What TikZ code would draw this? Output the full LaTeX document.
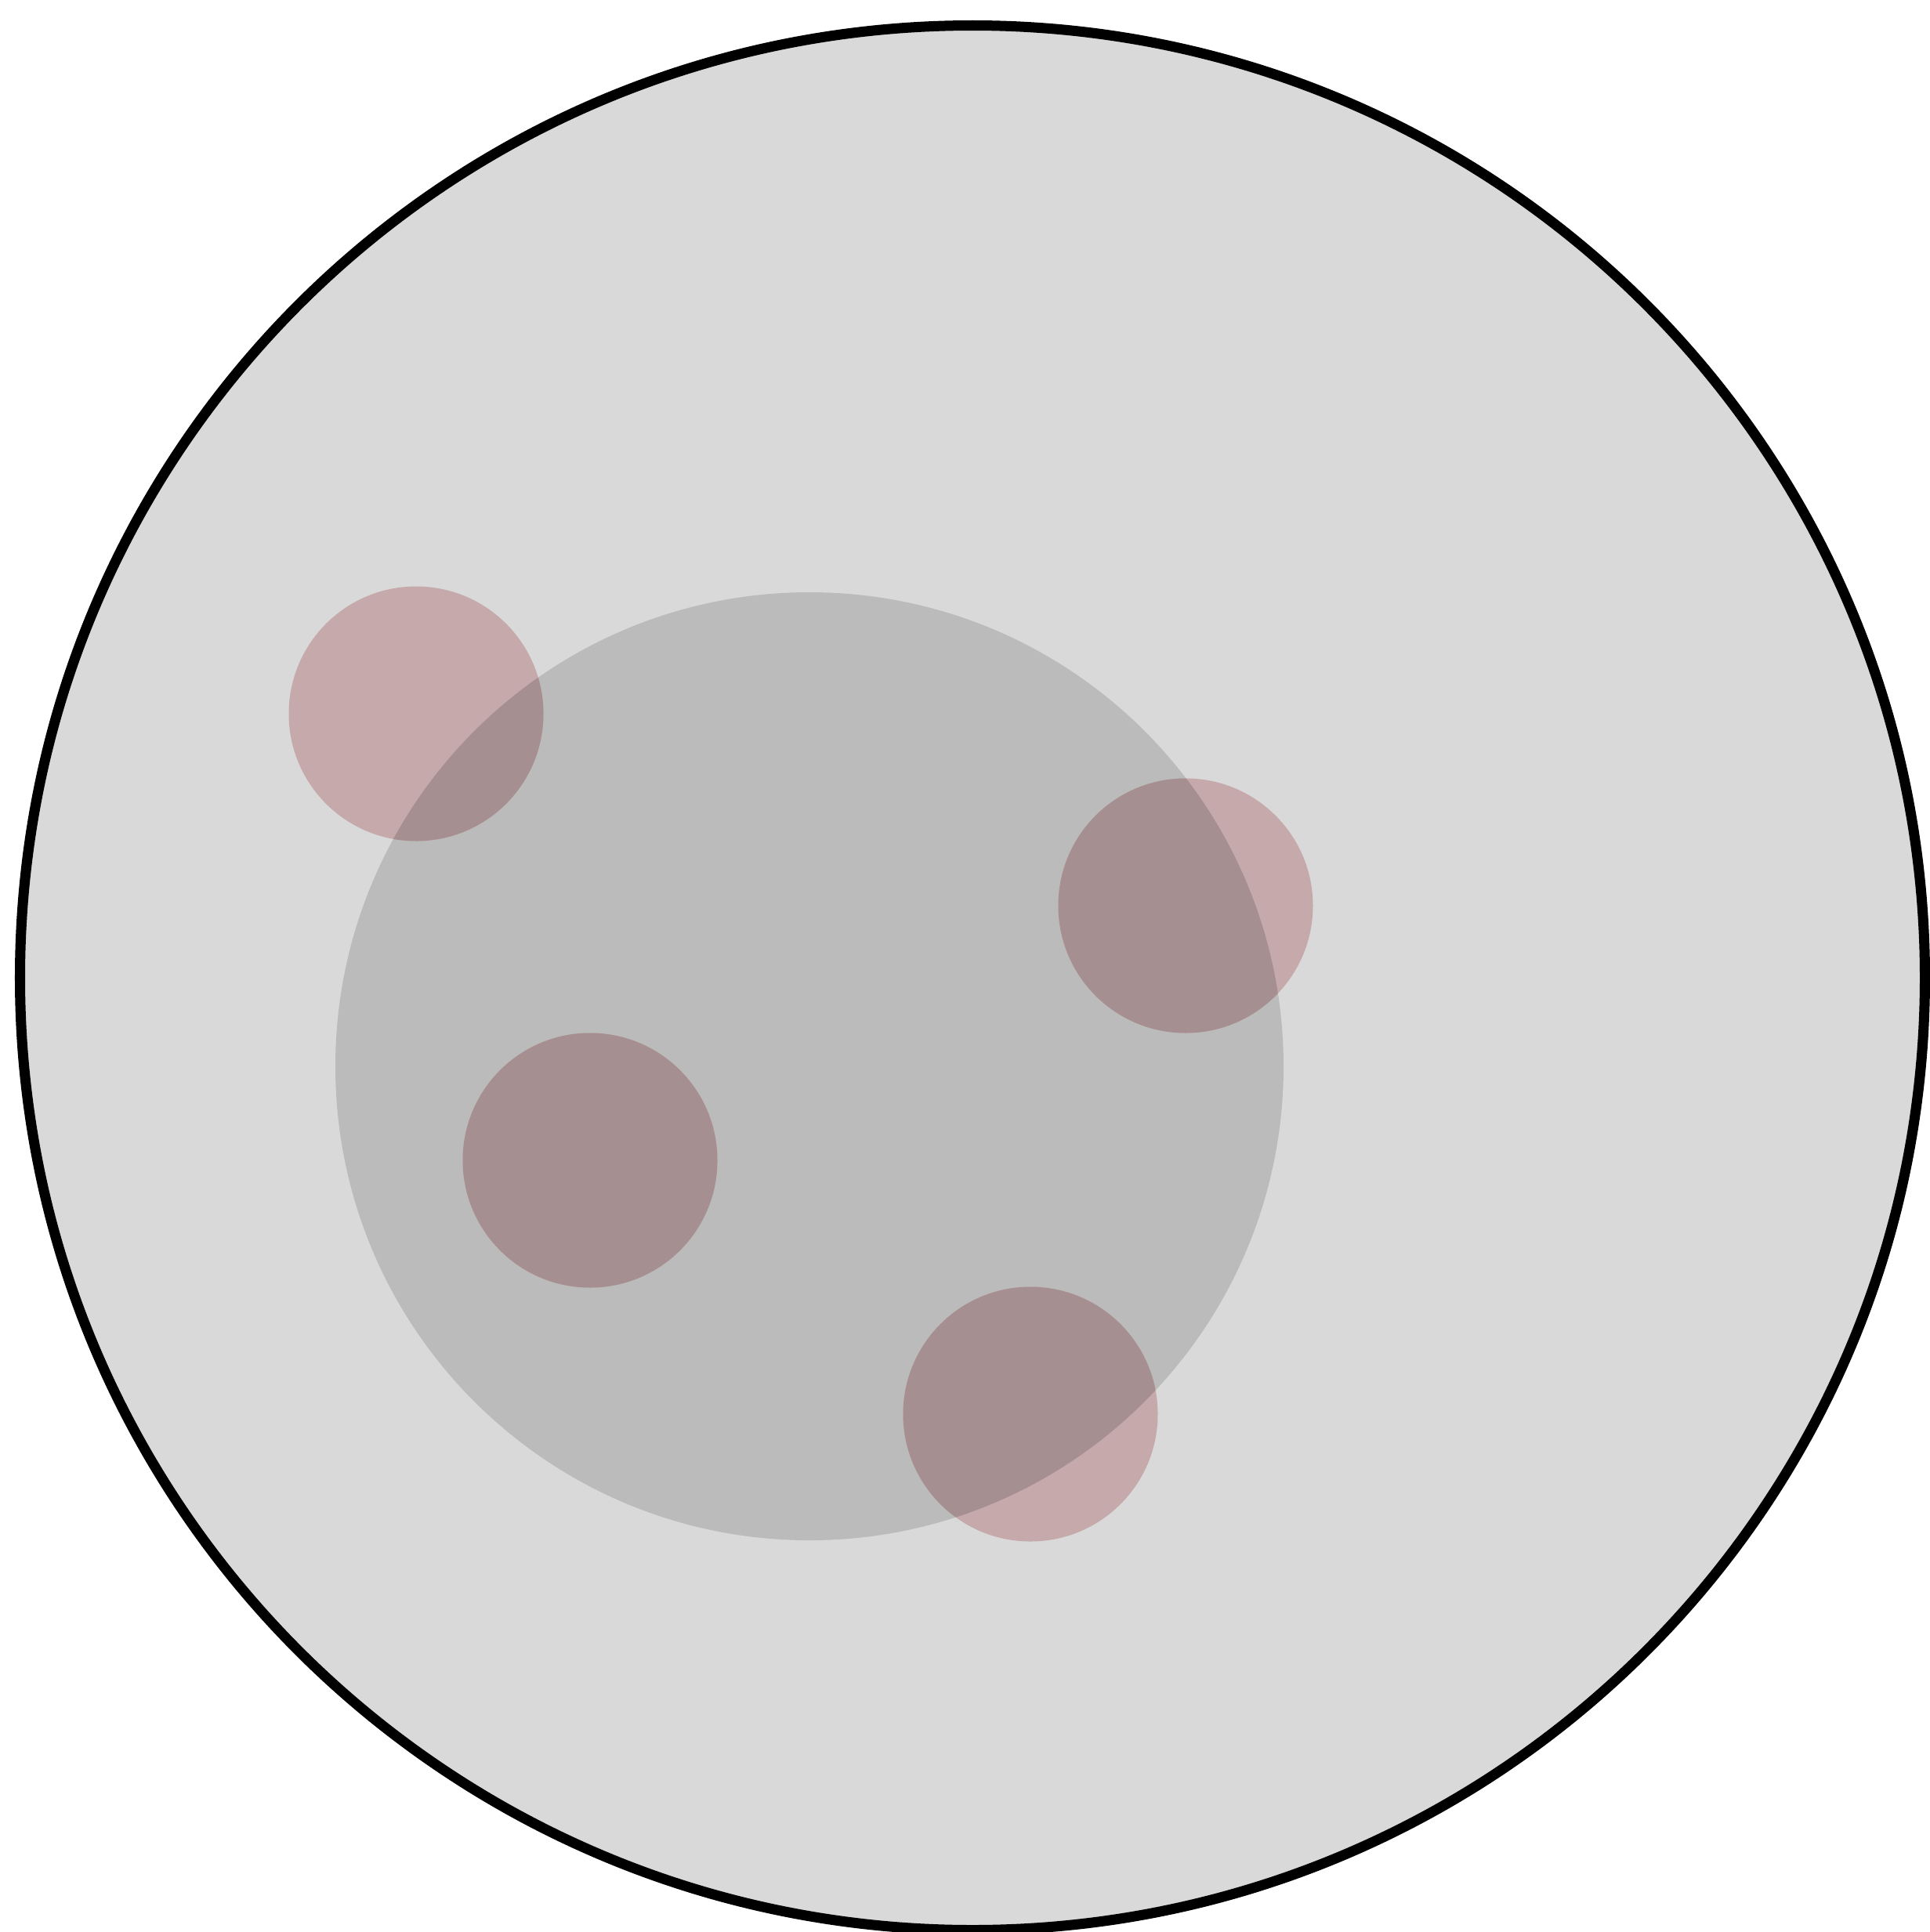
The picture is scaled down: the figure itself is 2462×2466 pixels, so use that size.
\documentclass[tikz,border=0pt]{standalone}
\definecolor{outerfill}{HTML}{D9D9D9}
\definecolor{innerfill}{HTML}{BBBBBB}
\definecolor{pinklight}{HTML}{C5A9AB}
\definecolor{pinkdark}{HTML}{A58F90}
\tikzset{
  blob/.style={fill=pinklight, draw=none},
  blobdark/.style={fill=pinkdark, draw=none}
}
\begin{document}
\begin{tikzpicture}[x=0.01cm,y=-0.01cm]
\useasboundingbox (0,0) rectangle (2462,2466);
\fill[white] (0,0) rectangle (2462,2466);
\draw[line width=3.7pt, fill=outerfill] (1241,1248) circle[radius=1215.5];
\fill[innerfill] (1033,1361) circle[radius=605];
\foreach \x/\y in {531/911, 1513/1156, 753/1481, 1315/1805}{
  \fill[blob] (\x,\y) circle[radius=162.5];
}
\begin{scope}
\clip (1033,1361) circle[radius=605];
\foreach \x/\y in {531/911, 1513/1156, 753/1481, 1315/1805}{
  \fill[blobdark] (\x,\y) circle[radius=162.5];
}
\end{scope}
\end{tikzpicture}
\end{document}
